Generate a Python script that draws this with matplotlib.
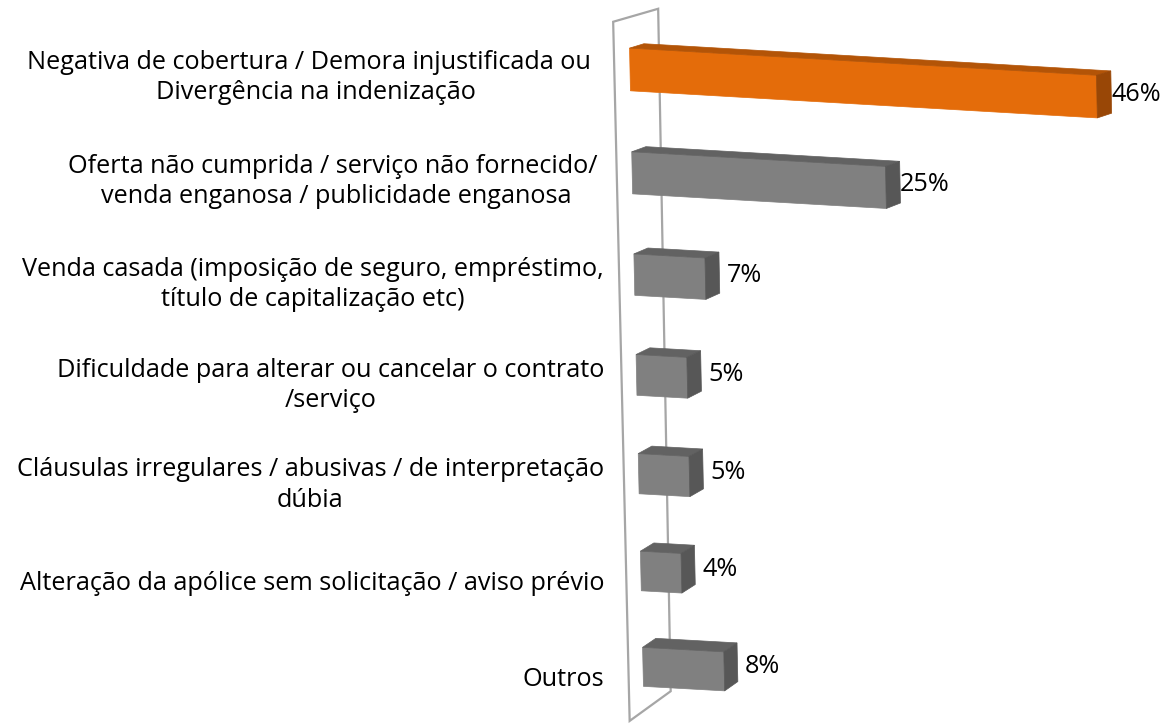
import numpy as np
import matplotlib
matplotlib.use("Agg")
import matplotlib.pyplot as plt

categories = [
    "Negativa de cobertura / Demora injustificada ou  \nDivergência na indenização",
    "Oferta não cumprida / serviço não fornecido/ \nvenda enganosa / publicidade enganosa",
    "Venda casada (imposição de seguro, empréstimo,\ntítulo de capitalização etc)",
    "Dificuldade para alterar ou cancelar o contrato\n/serviço",
    "Cláusulas irregulares / abusivas / de interpretação\ndúbia",
    "Alteração da apólice sem solicitação / aviso prévio",
    "Outros",
]
values = [46, 25, 7, 5, 5, 4, 8]
value_labels = ["46%", "25%", "7%", "5%", "5%", "4%", "8%"]
highlighted = [True, False, False, False, False, False, False]

ORANGE = ("#E46C0A", "#B35407", "#994706")
GREY = ("#808080", "#626262", "#575757")
WALL = "#A6A6A6"

W, H = 1172, 724
plt.rcParams['font.family'] = ['Open Sans', 'DejaVu Sans']
fig = plt.figure(figsize=(W / 100, H / 100), dpi=100)
ax = fig.add_axes([0, 0, 1, 1])
ax.set_xlim(0, W)
ax.set_ylim(H, 0)
ax.axis('off')


def project(X, Y, Z):
    """Oblique/perspective projection of (value, row, depth) to figure pixels."""
    X = np.asarray(X, float); Y = np.asarray(Y, float); Z = np.asarray(Z, float)
    w = 1 + 0.0077 * Y
    u = 630 + 10.15 * X + 2.17 * Y + Z * (45 - 0.57 * (Y + 0.5))
    v = (69.5 + 0.59 * X + 104.7 * Y) / w + Z * (-13 - 2.4 * (Y + 0.5))
    return u, v


def poly(pts, **kw):
    xs, ys = zip(*[project(*p) for p in pts])
    ax.fill(xs, ys, **kw)


n = len(values)
# back wall (side plane at value 0)
y0, y1 = -0.5, n - 0.54
z0, z1 = -0.35, 0.65
wall = [(0, y0, z0), (0, y0, z1), (0, y1, z1), (0, y1, z0)]
xs, ys = zip(*[project(*p) for p in wall])
ax.fill(xs, ys, facecolor="white", edgecolor=WALL, linewidth=1.6, zorder=1)

half = 0.205
bz0, bz1 = 0.0, 0.32
FS = 18.2
for i, (val, lab, hl) in enumerate(zip(values, value_labels, highlighted)):
    front, top, side = ORANGE if hl else GREY
    ya, yb = i - half, i + half
    # front face
    poly([(0, ya, bz0), (val, ya, bz0), (val, yb, bz0), (0, yb, bz0)],
         facecolor=front, edgecolor=front, linewidth=0.5, zorder=3)
    # top face
    poly([(0, ya, bz0), (val, ya, bz0), (val, ya, bz1), (0, ya, bz1)],
         facecolor=top, edgecolor=top, linewidth=0.5, zorder=3)
    # right face
    poly([(val, ya, bz0), (val, yb, bz0), (val, yb, bz1), (val, ya, bz1)],
         facecolor=side, edgecolor=side, linewidth=0.5, zorder=3)
    lx, ly = project(val, i, bz1 / 2)
    ax.text(lx + 32, ly, lab, ha='center', va='center', fontsize=FS, color='black', zorder=4)
    cx, cy = project(0, i, z0)
    ax.text(604, cy + 3, categories[i], ha='right', va='center', multialignment='center',
            fontsize=FS, color='black', linespacing=1.27, zorder=4)

fig.savefig("out.png", dpi=100)
